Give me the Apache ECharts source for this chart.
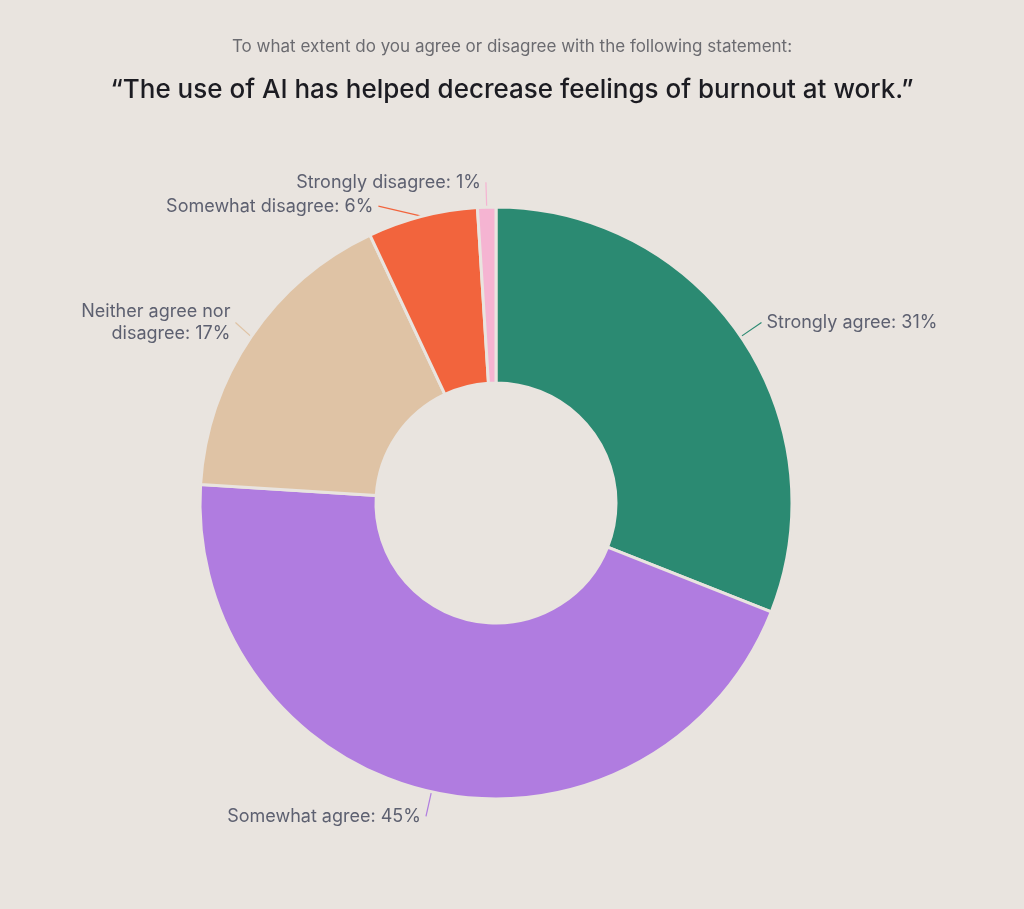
<!DOCTYPE html>
<html><head><meta charset="utf-8">
<script src="https://cdn.jsdelivr.net/npm/echarts@6/dist/echarts.min.js"></script>
<style>html,body{margin:0;background:#e9e4df;}#c{width:1024px;height:909px;}</style>
</head><body><div id="c"></div>
<script>
const categories = ["Strongly agree", "Somewhat agree", "Neither agree nor\ndisagree", "Somewhat disagree", "Strongly disagree"];
const values = [31, 45, 17, 6, 1];
const colors = ["#2b8a72", "#b07ce0", "#dfc3a5", "#f2643d", "#f5b4d2"];
const chart = echarts.init(document.getElementById('c'));
chart.setOption({
  backgroundColor: '#e9e4df',
  title: [
    {text: 'To what extent do you agree or disagree with the following statement:', left: 'center', top: 33,
     textStyle: {fontFamily: 'Inter', fontSize: 17, fontWeight: 'normal', color: '#6b6b70'}},
    {text: '“The use of AI has helped decrease feelings of burnout at work.”', left: 'center', top: 72,
     textStyle: {fontFamily: 'Inter', fontSize: 26, fontWeight: 500, color: '#1c1c22'}}
  ],
  series: [{
    type: 'pie', center: [496, 503], radius: [120, 296], startAngle: 90, clockwise: true,
    data: categories.map((c, i) => ({name: c, value: values[i], itemStyle: {color: colors[i]}})),
    itemStyle: {borderColor: '#e9e4df', borderWidth: 3},
    label: {formatter: p => p.name + ': ' + p.value + '%', fontFamily: 'Inter', fontSize: 18, color: '#5d6070', lineHeight: 22},
    labelLine: {length: 25, length2: 0, lineStyle: {width: 1.2}},
    emphasis: {disabled: true}
  }]
});
</script></body></html>
